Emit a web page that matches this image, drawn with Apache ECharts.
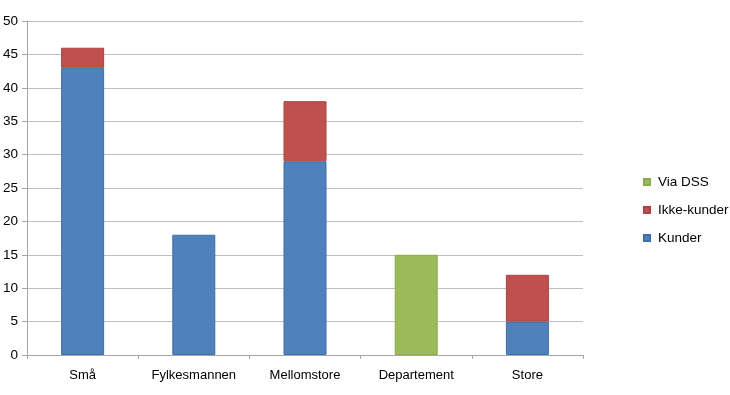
<!DOCTYPE html>
<html><head><meta charset="utf-8">
<script src="https://cdn.jsdelivr.net/npm/echarts@6/dist/echarts.min.js"></script>
<style>html,body{margin:0;padding:0;background:#fff}#c{width:730px;height:395px}</style>
</head><body><div id="c"></div>
<script>
const categories = ['Små', 'Fylkesmannen', 'Mellomstore', 'Departement', 'Store'];
const kunder = [43, 18, 29, 0, 5];
const ikkeKunder = [3, 0, 9, 0, 7];
const viaDSS = [0, 0, 0, 15, 0];
const yTicks = [0, 5, 10, 15, 20, 25, 30, 35, 40, 45, 50];

const chart = echarts.init(document.getElementById('c'));
const font = 'Liberation Sans, Arial, sans-serif';
function ser(name, data, color, border) {
  return {
    name, type: 'bar', stack: 'a', data: data.map(v => v === 0 ? null : v),
    barWidth: 43,
    itemStyle: { color, borderColor: border, borderWidth: 1 },
    emphasis: { disabled: true }
  };
}
chart.setOption({
  animation: false,
  grid: { left: 26, right: 147, top: 21, bottom: 40, containLabel: false },
  legend: {
    orient: 'vertical', left: 638, top: 170, itemGap: 14,
    itemWidth: 6, itemHeight: 6, icon: 'rect',
    data: ['Via DSS', 'Ikke-kunder', 'Kunder'],
    textStyle: { fontFamily: font, fontSize: 13.5, color: '#000', padding: [0, 0, 0, 3] }
  },
  xAxis: {
    type: 'category', data: categories,
    axisLine: { lineStyle: { color: '#A6A6A6', width: 1 } },
    axisTick: { show: true, length: 4, lineStyle: { color: '#A6A6A6' } },
    axisLabel: { fontFamily: font, fontSize: 13, color: '#000', margin: 14 }
  },
  yAxis: {
    type: 'value', min: 0, max: 50, interval: 5,
    axisLine: { show: true, lineStyle: { color: '#A6A6A6', width: 1 } },
    axisTick: { show: true, length: 5, lineStyle: { color: '#A6A6A6' } },
    splitLine: { lineStyle: { color: '#BFBFBF', width: 1 } },
    axisLabel: { fontFamily: font, fontSize: 13.5, color: '#000', margin: 9,
      formatter: v => yTicks.includes(v) ? String(v) : '' }
  },
  series: [
    ser('Kunder', kunder, '#4F81BD', '#3D6FAE'),
    ser('Ikke-kunder', ikkeKunder, '#C0504D', '#B04340'),
    ser('Via DSS', viaDSS, '#9BBB59', '#8CAB4C')
  ]
});
</script></body></html>
